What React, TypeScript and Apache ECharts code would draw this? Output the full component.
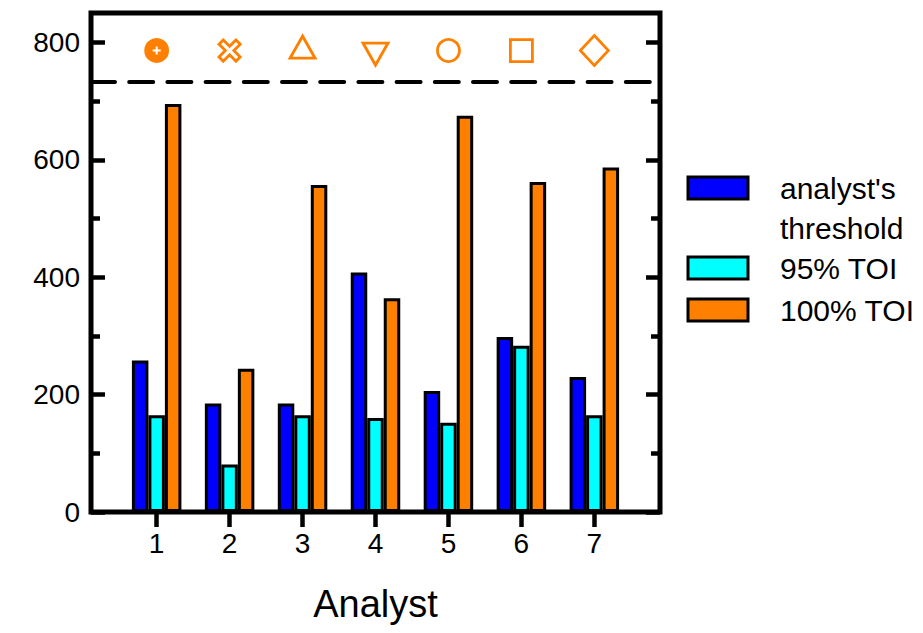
import React, { useEffect, useRef } from 'react';
import * as echarts from 'echarts';

// ---- data ----
const analysts = [1, 2, 3, 4, 5, 6, 7];
const analystThreshold = [258, 185, 185, 408, 206, 298, 230];
const toi95 = [165, 81, 165, 160, 152, 283, 165];
const toi100 = [695, 244, 557, 364, 675, 562, 587];
const markerValues = [786, 786, 786, 786, 786, 786, 786];
const referenceLevel = [733];
const yMajorTicks = [0, 200, 400, 600, 800];
const yMinorTicks = [100, 300, 500, 700];
const seriesNames = ["analyst's threshold", '95% TOI', '100% TOI'];
const legendLines = [["analyst's", 'threshold'], ['95% TOI'], ['100% TOI']];

// ---- styles ----
const BLUE = '#0000FF';
const CYAN = '#00FFFF';
const ORANGE = '#FF8000';
const seriesColors = [BLUE, CYAN, ORANGE];
const FONT = "'Liberation Sans', Arial, sans-serif";
const PLUS =
  'path://M4.5,0L7.5,0L7.5,4.5L12,4.5L12,7.5L7.5,7.5L7.5,12L4.5,12L4.5,7.5L0,7.5L0,4.5L4.5,4.5Z';

const markerShapes: any[] = [
  { symbol: 'circle', symbolSize: 22, filled: true },
  { symbol: PLUS, symbolSize: 24, symbolRotate: 45 },
  { symbol: 'triangle', symbolSize: [25, 22], symbolOffset: [0, -3.5] },
  { symbol: 'triangle', symbolSize: [25, 22], symbolRotate: 180, symbolOffset: [0, 3.5] },
  { symbol: 'circle', symbolSize: 22 },
  { symbol: 'rect', symbolSize: 22 },
  { symbol: 'diamond', symbolSize: [28, 30] },
];

const GRID = { left: 91, top: 13, width: 569, height: 499 };
const LEGEND = { x: 688, w: 60, h: 22, tops: [177, 257, 299], textX: 780, lineH: 40 };

function buildOption(): any {
  const xCommon = {
    type: 'value',
    min: 0.1,
    max: 7.9,
    axisLine: { show: false },
    splitLine: { show: false },
  };
  const yCommon = {
    type: 'value',
    min: 0,
    max: 850,
    axisLine: { show: false },
    splitLine: { show: false },
  };
  const tick = (vals: number[], len: number) => ({
    show: true,
    inside: true,
    length: len,
    customValues: vals,
    lineStyle: { color: '#000', width: 4.5 },
  });

  const barSeries = [analystThreshold, toi95, toi100].map((vals, k) => ({
    type: 'bar',
    name: seriesNames[k],
    xAxisIndex: 0,
    yAxisIndex: 0,
    barWidth: 16.5,
    barGap: '0%',
    itemStyle: { color: seriesColors[k], borderColor: '#000', borderWidth: 3 },
    data: analysts.map((x, i) => [x, vals[i]]),
    z: 3,
  }));

  const markerData = analysts.map((x, i) => {
    const s = markerShapes[i];
    return {
      value: [x, markerValues[i]],
      symbol: s.symbol,
      symbolSize: s.symbolSize,
      symbolRotate: s.symbolRotate || 0,
      symbolOffset: s.symbolOffset || [0, 0],
      itemStyle: {
        color: s.filled ? ORANGE : '#fff',
        borderColor: ORANGE,
        borderWidth: 2.8,
        opacity: 1,
      },
    };
  });

  const legendGraphics: any[] = [];
  legendLines.forEach((lines, k) => {
    const top = LEGEND.tops[k];
    legendGraphics.push({
      type: 'rect',
      shape: { x: LEGEND.x, y: top, width: LEGEND.w, height: LEGEND.h },
      style: { fill: seriesColors[k], stroke: '#000', lineWidth: 3 },
    });
    lines.forEach((line, j) => {
      legendGraphics.push({
        type: 'text',
        x: LEGEND.textX,
        y: top + LEGEND.h / 2 + j * LEGEND.lineH,
        style: {
          text: line,
          fill: '#000',
          fontSize: 30,
          fontFamily: FONT,
          verticalAlign: 'middle',
          align: 'left',
        },
      });
    });
  });

  return {
    animation: false,
    backgroundColor: '#fff',
    grid: {
      ...GRID,
      show: true,
      borderColor: '#000',
      borderWidth: 5,
      backgroundColor: 'transparent',
    },
    xAxis: [
      {
        ...xCommon,
        position: 'bottom',
        axisTick: tick(analysts, 14),
        axisLabel: {
          customValues: analysts,
          color: '#000',
          fontSize: 28,
          fontFamily: FONT,
          margin: 17,
        },
        name: 'Analyst',
        nameLocation: 'middle',
        nameGap: 73,
        nameTextStyle: { color: '#000', fontSize: 38, fontFamily: FONT },
      },
      {
        ...xCommon,
        position: 'top',
        axisTick: tick(analysts, 15),
        axisLabel: { show: false },
      },
    ],
    yAxis: [
      {
        ...yCommon,
        position: 'left',
        axisTick: tick(yMajorTicks, 14),
        axisLabel: {
          customValues: yMajorTicks,
          color: '#000',
          fontSize: 28,
          fontFamily: FONT,
          margin: 11,
        },
      },
      { ...yCommon, position: 'left', axisTick: tick(yMinorTicks, 9), axisLabel: { show: false } },
      { ...yCommon, position: 'right', axisTick: tick(yMajorTicks, 14), axisLabel: { show: false } },
      { ...yCommon, position: 'right', axisTick: tick(yMinorTicks, 9), axisLabel: { show: false } },
    ],
    series: [
      ...barSeries,
      {
        type: 'scatter',
        name: 'markers',
        xAxisIndex: 0,
        yAxisIndex: 0,
        data: markerData,
        itemStyle: { opacity: 1 },
        z: 4,
        markLine: {
          silent: true,
          symbol: ['none', 'none'],
          label: { show: false },
          lineStyle: { color: '#000', width: 4, type: [24, 14.2], cap: 'round', opacity: 1 },
          data: referenceLevel.map((v) => ({ yAxis: v })),
        },
      },
      {
        type: 'scatter',
        name: 'marker-plus',
        xAxisIndex: 0,
        yAxisIndex: 0,
        data: [[analysts[0], markerValues[0]]],
        symbol: PLUS,
        symbolSize: 8,
        itemStyle: { color: '#fff', opacity: 1 },
        z: 5,
      },
    ],
    graphic: legendGraphics,
  };
}

export default function App() {
  const ref = useRef<HTMLDivElement>(null);
  useEffect(() => {
    if (!ref.current) return;
    const chart = echarts.init(ref.current, undefined, { renderer: 'svg' });
    chart.setOption(buildOption());
    return () => chart.dispose();
  }, []);
  return <div ref={ref} style={{ width: 923, height: 633, position: 'absolute', left: 0, top: 0 }} />;
}
